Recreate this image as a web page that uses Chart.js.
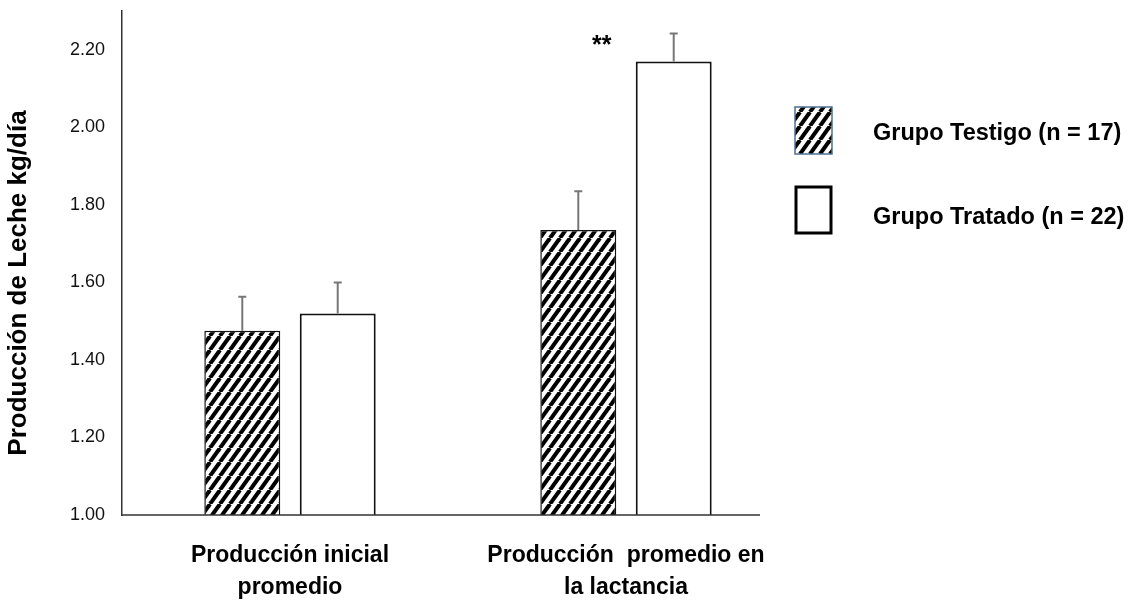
<!DOCTYPE html>
<html>
<head>
<meta charset="utf-8">
<script src="https://cdn.jsdelivr.net/npm/chart.js@4"></script>
<style>
  html, body { margin: 0; padding: 0; background: #fff; }
  #wrap { width: 1133px; height: 605px; }
</style>
</head>
<body>
<div id="wrap"><canvas id="milk-chart" width="1133" height="605"></canvas></div>
<script>
// Data
const categories = [['Producción inicial', 'promedio'], ['Producción  promedio en', 'la lactancia']];
const seriesNames = ['Grupo Testigo (n = 17)', 'Grupo Tratado (n = 22)'];
const testigo = [1.475, 1.735];
const tratado = [1.52, 2.17];
const testigoErr = [0.088, 0.10];
const tratadoErr = [0.08, 0.072];
const yTicks = [1.0, 1.2, 1.4, 1.6, 1.8, 2.0, 2.2];

const FONT = "'Liberation Sans', Arial, sans-serif";

// diagonal hatch fill
const makeHatch = function() {
    const w = 10, h = 14;
    const c = document.createElement('canvas');
    c.width = w;
    c.height = h;
    const g = c.getContext('2d');
    g.fillStyle = '#fff';
    g.fillRect(0, 0, w, h);
    g.strokeStyle = '#000';
    g.lineWidth = 4;
    for (let k = -1; k <= 1; k++) {
        g.beginPath();
        g.moveTo(k * w, h);
        g.lineTo(k * w + w, 0);
        g.stroke();
    }
    return c;
};
const hatch = document.getElementById('milk-chart').getContext('2d').createPattern(makeHatch(), 'repeat');

// error bars, x axis line, y title, stars and legend
const extras = {
    id: 'extras',
    afterDatasetsDraw(chart) {
        const ctx = chart.ctx;
        const y = chart.scales.y;
        const errs = [testigoErr, tratadoErr];
        ctx.save();
        chart.data.datasets.forEach(function(ds, di) {
            chart.getDatasetMeta(di).data.forEach(function(bar, i) {
                const top = y.getPixelForValue(ds.data[i] + errs[di][i]);
                ctx.strokeStyle = '#777';
                ctx.lineWidth = 2;
                ctx.beginPath();
                ctx.moveTo(bar.x, bar.y);
                ctx.lineTo(bar.x, top);
                ctx.moveTo(bar.x - 4, top);
                ctx.lineTo(bar.x + 4, top);
                ctx.stroke();
            });
        });

        // x axis line
        const area = chart.chartArea;
        ctx.strokeStyle = '#333';
        ctx.lineWidth = 1.5;
        ctx.beginPath();
        ctx.moveTo(area.left, area.bottom);
        ctx.lineTo(760, area.bottom);
        ctx.stroke();

        // significance mark
        const b = chart.getDatasetMeta(1).data[1];
        ctx.fillStyle = '#000';
        ctx.font = 'bold 25px ' + FONT;
        ctx.textAlign = 'center';
        ctx.textBaseline = 'alphabetic';
        ctx.fillText('**', b.x - 72, 53);

        // y title
        ctx.save();
        ctx.translate(19, 283);
        ctx.rotate(-Math.PI / 2);
        ctx.font = 'bold 26px ' + FONT;
        ctx.textAlign = 'center';
        ctx.textBaseline = 'middle';
        ctx.fillText('Producción de Leche kg/día', 0, 0);
        ctx.restore();

        // legend
        ctx.fillStyle = hatch;
        ctx.fillRect(795, 107, 37, 47);
        ctx.strokeStyle = '#4f6f90';
        ctx.lineWidth = 1.5;
        ctx.strokeRect(795, 107, 37, 47);
        ctx.fillStyle = '#fff';
        ctx.fillRect(796, 187, 35, 46);
        ctx.strokeStyle = '#000';
        ctx.lineWidth = 3;
        ctx.strokeRect(796, 187, 35, 46);
        ctx.fillStyle = '#000';
        ctx.font = 'bold 23.5px ' + FONT;
        ctx.textAlign = 'left';
        ctx.textBaseline = 'middle';
        ctx.fillText(seriesNames[0], 873, 134);
        ctx.fillText(seriesNames[1], 873, 218);
        ctx.restore();
    }
};

new Chart(document.getElementById('milk-chart'), {
    type: 'bar',
    data: {
        labels: categories,
        datasets: [
            {
                label: seriesNames[0],
                data: testigo,
                backgroundColor: hatch,
                borderColor: '#111',
                borderWidth: 1.5,
                categoryPercentage: 0.568,
                barPercentage: 0.796
            },
            {
                label: seriesNames[1],
                data: tratado,
                backgroundColor: '#fff',
                borderColor: '#111',
                borderWidth: 2,
                categoryPercentage: 0.568,
                barPercentage: 0.796
            }
        ]
    },
    options: {
        responsive: false,
        animation: false,
        layout: {
            padding: { top: 11, right: 339, left: 0, bottom: 0 }
        },
        plugins: {
            legend: { display: false },
            tooltip: { enabled: false }
        },
        scales: {
            x: {
                grid: { display: false, drawTicks: false },
                border: { display: false },
                ticks: {
                    color: '#000',
                    padding: 25,
                    maxRotation: 0,
                    font: { family: FONT, size: 23, weight: 'bold', lineHeight: 1.37 }
                },
                afterFit: function(scale) {
                    scale.height = 90;
                    scale.paddingLeft = 0;
                    scale.paddingRight = 0;
                }
            },
            y: {
                min: 1.0,
                max: 2.3,
                grid: { display: false, drawTicks: false },
                border: { display: true, color: '#333', width: 1.5 },
                afterBuildTicks: function(scale) {
                    scale.ticks = yTicks.map(function(v) { return { value: v }; });
                },
                ticks: {
                    color: '#111',
                    padding: 17,
                    font: { family: FONT, size: 18 },
                    callback: function(v) { return Number(v).toFixed(2); }
                },
                afterFit: function(scale) {
                    scale.width = 122;
                    scale.paddingTop = 0;
                    scale.paddingBottom = 0;
                }
            }
        }
    },
    plugins: [extras]
});
</script>
</body>
</html>
